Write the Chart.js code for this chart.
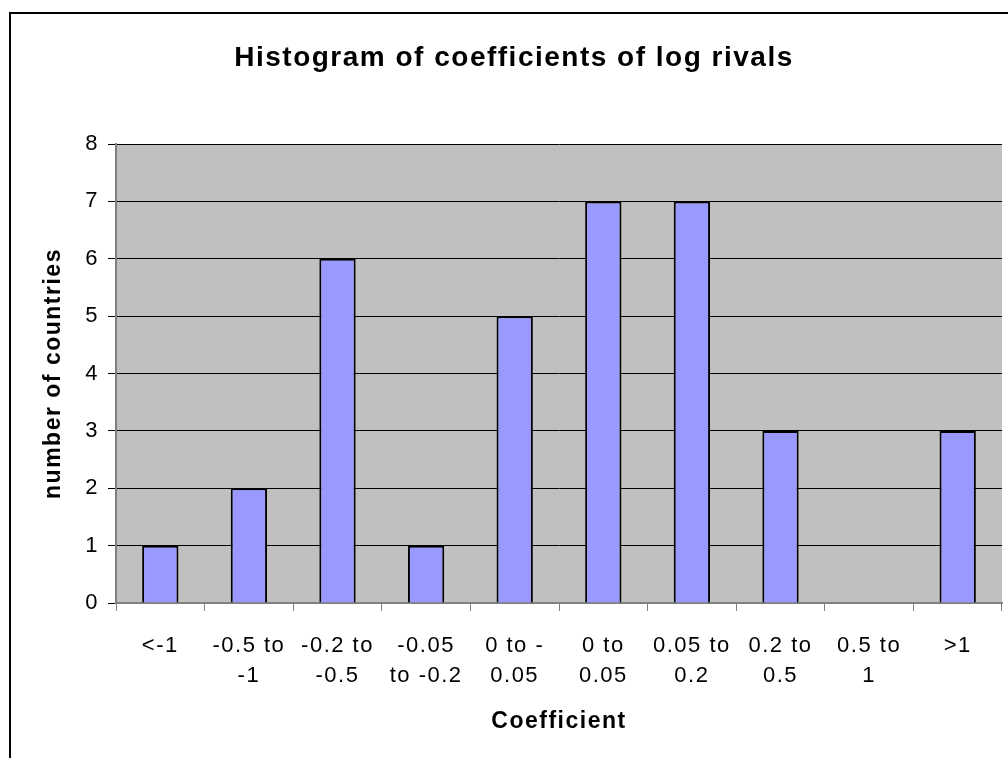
<!DOCTYPE html>
<html>
<head>
<meta charset="utf-8">
<script src="https://cdn.jsdelivr.net/npm/chart.js@4/dist/chart.umd.min.js"></script>
<style>
  html, body { margin: 0; padding: 0; background: #fff; overflow: hidden; }
  canvas { display: block; }
</style>
</head>
<body>
<canvas id="histo" width="1008" height="758"></canvas>
<script>
// values
const categories = [
    ['<-1'],
    ['-0.5 to', '-1'],
    ['-0.2 to', '-0.5'],
    ['-0.05', 'to -0.2'],
    ['0 to -', '0.05'],
    ['0 to', '0.05'],
    ['0.05 to', '0.2'],
    ['0.2 to', '0.5'],
    ['0.5 to', '1'],
    ['>1']
];
const countries = [1, 2, 6, 1, 5, 7, 7, 3, 0, 3];
const yTicks = [0, 1, 2, 3, 4, 5, 6, 7, 8];

const FONT = "'Liberation Sans', Arial, sans-serif";
const SPACING = '1.5px';

// excel-ish look: wide letter spacing, grey plot area, frame round the chart
const excelLook = {
    id: 'excelLook',
    beforeUpdate(chart) {
        chart.ctx.letterSpacing = SPACING;
    },
    beforeDraw(chart) {
        const ctx = chart.ctx;
        const a = chart.chartArea;
        ctx.save();
        ctx.fillStyle = '#c0c0c0';
        ctx.fillRect(a.left, a.top, a.right - a.left, a.bottom - a.top);
        ctx.strokeStyle = '#000';
        ctx.lineWidth = 2;
        ctx.strokeRect(10, 13, 1100, 900);
        ctx.restore();
        ctx.letterSpacing = SPACING;

        // title sits a bit right of the canvas centre in the original
        const tb = chart.titleBlock;
        if (tb && !tb._shifted) {
            const orig = tb.draw.bind(tb);
            tb.draw = function () {
                ctx.save();
                ctx.translate(13, 0);
                orig();
                ctx.restore();
            };
            tb._shifted = true;
        }
    }
};

const ctx = document.getElementById('histo').getContext('2d');
new Chart(ctx, {
    type: 'bar',
    data: {
        labels: categories,
        datasets: [{
            data: countries,
            backgroundColor: '#9999ff',
            borderColor: '#000',
            borderWidth: 2,
            barPercentage: 0.41,
            categoryPercentage: 1
        }]
    },
    options: {
        responsive: false,
        animation: false,
        layout: { padding: { left: 0, right: 6, top: 0, bottom: 0 } },
        scales: {
            x: {
                afterFit: scale => { scale.height = 155; },
                grid: {
                    display: true,
                    drawOnChartArea: false,
                    drawTicks: true,
                    tickLength: 8,
                    color: '#808080',
                    offset: true
                },
                border: { color: '#808080', width: 2 },
                ticks: {
                    color: '#000',
                    font: { family: FONT, size: 22, lineHeight: 1.37 },
                    padding: 20,
                    maxRotation: 0,
                    autoSkip: false
                },
                title: {
                    display: true,
                    text: 'Coefficient',
                    color: '#000',
                    font: { family: FONT, size: 23, weight: 'bold', lineHeight: 1.2 },
                    padding: { top: 0, bottom: 23 }
                }
            },
            y: {
                min: 0,
                max: 8,
                afterFit: scale => { scale.width = 116; },
                afterBuildTicks: scale => {
                    scale.ticks = yTicks.map(v => ({ value: v }));
                },
                grid: {
                    color: '#000',
                    lineWidth: 1,
                    tickLength: 8
                },
                border: { color: '#808080', width: 2 },
                ticks: {
                    color: '#000',
                    font: { family: FONT, size: 22 },
                    padding: 9
                },
                title: {
                    display: true,
                    text: 'number of countries',
                    color: '#000',
                    font: { family: FONT, size: 23, weight: 'bold', lineHeight: 1.2 },
                    padding: { top: 40, bottom: 0 }
                }
            }
        },
        plugins: {
            legend: { display: false },
            tooltip: { enabled: false },
            title: {
                display: true,
                text: 'Histogram of coefficients of log rivals',
                color: '#000',
                font: { family: FONT, size: 28, weight: 'bold', lineHeight: 1.2 },
                padding: { top: 41, bottom: 69.4 }
            }
        }
    },
    plugins: [excelLook]
});
</script>
</body>
</html>
